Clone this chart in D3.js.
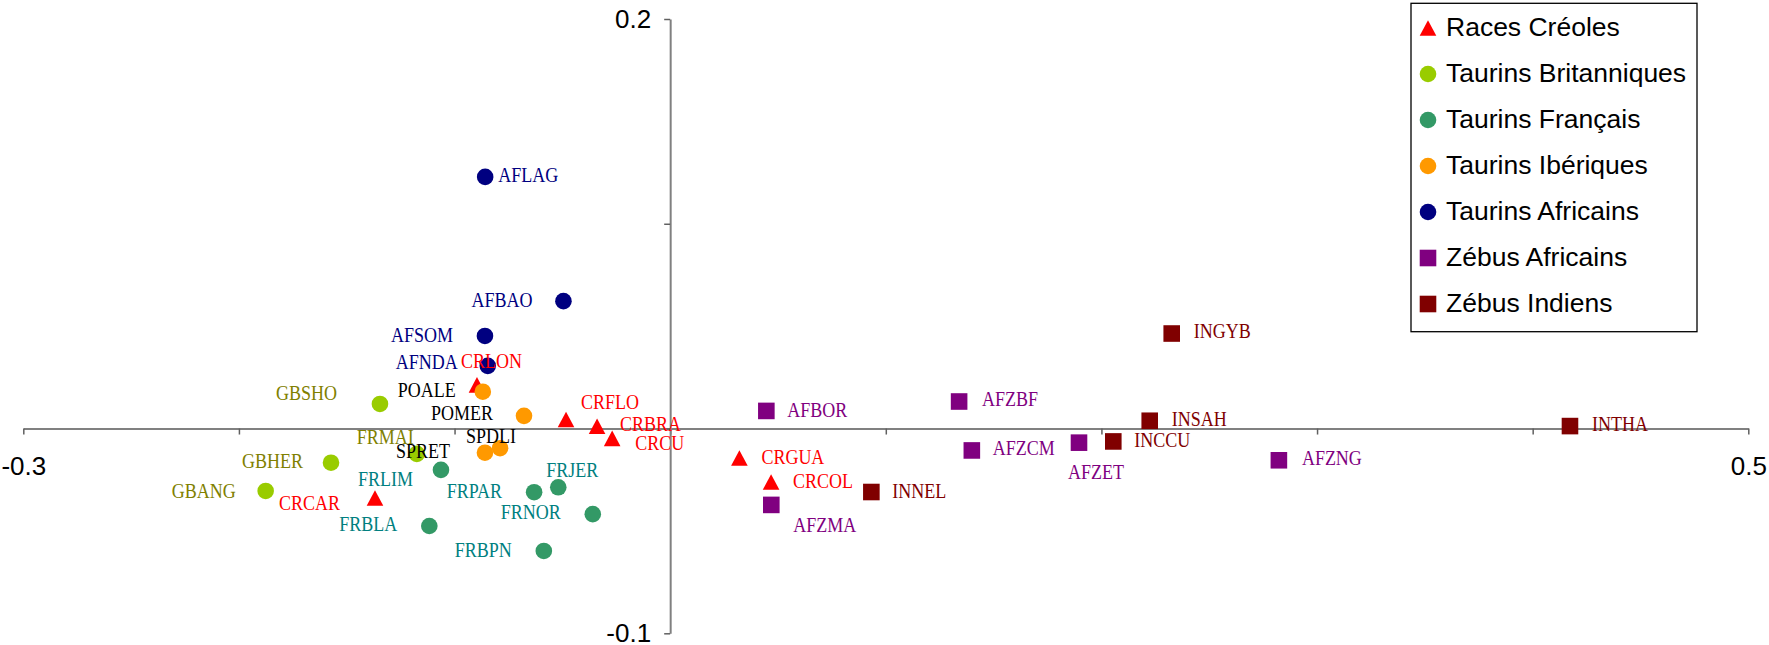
<!DOCTYPE html>
<html>
<head>
<meta charset="utf-8">
<script src="https://cdn.jsdelivr.net/npm/d3@7"></script>
<style>
  html, body { margin: 0; padding: 0; background: #fff; }
  svg { display: block; }
</style>
</head>
<body>
<svg id="chart" width="1769" height="645"></svg>
<script>
// Breed coordinates on the first two factorial axes: [breed, axis 1, axis 2]
const racesCreoles = [
  ["CRLON", -0.0896, 0.0213],
  ["CRFLO", -0.0483, 0.0044],
  ["CRBRA", -0.0339, 0.0011],
  ["CRCU", -0.0269, -0.0048],
  ["CRCAR", -0.1369, -0.0339],
  ["CRGUA", 0.0321, -0.0144],
  ["CRCOL", 0.0468, -0.0261]
];
const taurinsBritanniques = [
  ["GBSHO", -0.1346, 0.0120],
  ["FRMAI", -0.1175, -0.0124],
  ["GBHER", -0.1573, -0.0167],
  ["GBANG", -0.1876, -0.0305]
];
const taurinsFrancais = [
  ["FRLIM", -0.1063, -0.0202],
  ["FRPAR", -0.0631, -0.0311],
  ["FRJER", -0.0519, -0.0287],
  ["FRNOR", -0.0359, -0.0418],
  ["FRBLA", -0.1117, -0.0476],
  ["FRBPN", -0.0586, -0.0598]
];
const taurinsIberiques = [
  ["POALE", -0.0869, 0.0180],
  ["POMER", -0.0678, 0.0062],
  ["SPRET", -0.0859, -0.0118],
  ["SPDLI", -0.0789, -0.0096]
];
const taurinsAfricains = [
  ["AFLAG", -0.0858, 0.1229],
  ["AFBAO", -0.0495, 0.0622],
  ["AFSOM", -0.0859, 0.0452],
  ["AFNDA", -0.0846, 0.0306]
];
const zebusAfricains = [
  ["AFBOR", 0.0446, 0.0086],
  ["AFZBF", 0.1340, 0.0132],
  ["AFZCM", 0.1399, -0.0107],
  ["AFZET", 0.1896, -0.0069],
  ["AFZMA", 0.0469, -0.0373],
  ["AFZNG", 0.2823, -0.0155]
];
const zebusIndiens = [
  ["INGYB", 0.2326, 0.0464],
  ["INSAH", 0.2224, 0.0038],
  ["INCCU", 0.2055, -0.0063],
  ["INNEL", 0.0933, -0.0310],
  ["INTHA", 0.4173, 0.0012]
];

const groupNames = ["Races Créoles", "Taurins Britanniques", "Taurins Français",
  "Taurins Ibériques", "Taurins Africains", "Zébus Africains", "Zébus Indiens"];
const groupPoints = [racesCreoles, taurinsBritanniques, taurinsFrancais,
  taurinsIberiques, taurinsAfricains, zebusAfricains, zebusIndiens];

const xDomain = [-0.3, 0.5];
const yDomain = [-0.1, 0.2];
const xTicks = [-0.3, -0.2, -0.1, 0, 0.1, 0.2, 0.3, 0.4, 0.5];
const yTicks = [-0.1, 0, 0.1, 0.2];
const xTickLabels = ["-0.3", "", "", "", "", "", "", "", "0.5"];
const yTickLabels = ["-0.1", "", "", "0.2"];

// Styling per group
const groupStyle = [
  { shape: "triangle", fill: "#FF0000", text: "#FF0000" },
  { shape: "circle",   fill: "#99CC00", text: "#808000" },
  { shape: "circle",   fill: "#339966", text: "#008080" },
  { shape: "circle",   fill: "#FF9900", text: "#000000" },
  { shape: "circle",   fill: "#000080", text: "#000080" },
  { shape: "square",   fill: "#800080", text: "#800080" },
  { shape: "square",   fill: "#800000", text: "#800000" }
];

// Hand-placed label positions: [anchor, dx, dy] in pixels from the marker
const labelPlacement = {
  CRLON: ["start", -16, -24], CRFLO: ["start", 15, -17], CRBRA: ["start", 23, -2],
  CRCU: ["start", 23, 5], CRCAR: ["end", -35, 5], CRGUA: ["start", 22, -1],
  CRCOL: ["start", 22, -1],
  GBSHO: ["end", -43, -11], FRMAI: ["end", -3, -17], GBHER: ["end", -28, -1],
  GBANG: ["end", -30, 0],
  FRLIM: ["end", -28, 10], FRPAR: ["end", -32, -1], FRJER: ["start", -12, -17],
  FRNOR: ["end", -32, -2], FRBLA: ["end", -32, -2], FRBPN: ["end", -32, -1],
  POALE: ["end", -27, -1], POMER: ["end", -31, -2], SPRET: ["end", -35, -1],
  SPDLI: ["start", -34, -12],
  AFLAG: ["start", 13, -1], AFBAO: ["end", -31, -1], AFSOM: ["end", -32, -1],
  AFNDA: ["end", -30, -3],
  AFBOR: ["start", 21, -1], AFZBF: ["start", 23, -2], AFZCM: ["start", 21, -2],
  AFZET: ["start", -11, 30], AFZMA: ["start", 22, 20], AFZNG: ["start", 23, -2],
  INGYB: ["start", 22, -2], INSAH: ["start", 22, -1], INCCU: ["start", 21, -1],
  INNEL: ["start", 21, -1], INTHA: ["start", 22, -2]
};

const svg = d3.select("#chart");

const x = d3.scaleLinear().domain(xDomain).range([23.3, 1748.3]);
const y = d3.scaleLinear().domain(yDomain).range([633.3, 19]);

const AXIS_COLOR = "#808080";

// Horizontal axis through y = 0
const xAxis = d3.axisBottom(x)
  .tickValues(xTicks)
  .tickSizeInner(6)
  .tickSizeOuter(0)
  .tickPadding(22)
  .tickFormat((d, i) => xTickLabels[i]);

const gx = svg.append("g")
  .attr("transform", `translate(0,${y(0)})`)
  .call(xAxis);

// Vertical axis through x = 0
const yAxis = d3.axisLeft(y)
  .tickValues(yTicks)
  .tickSizeInner(6)
  .tickSizeOuter(0)
  .tickPadding(13)
  .tickFormat((d, i) => yTickLabels[i]);

const gy = svg.append("g")
  .attr("transform", `translate(${x(0)},0)`)
  .call(yAxis);

[gx, gy].forEach(g => {
  g.select(".domain").attr("stroke", AXIS_COLOR).attr("stroke-width", 2);
  g.selectAll(".tick line").attr("stroke", "#606060").attr("stroke-width", 1.5);
  g.selectAll(".tick text")
    .attr("fill", "#000")
    .style("font-family", "'Liberation Sans', Arial, sans-serif")
    .style("font-size", "26px");
});

// Marker shapes
function markerPath(shape) {
  if (shape === "triangle") return "M0,-7.8L8.3,7.8L-8.3,7.8Z";
  if (shape === "square") return "M-8.3,-8.3H8.3V8.3H-8.3Z";
  return null;
}

function drawMarker(sel, shape, fill) {
  if (shape === "circle") {
    sel.append("circle").attr("r", 8.3).attr("fill", fill);
  } else {
    sel.append("path").attr("d", markerPath(shape)).attr("fill", fill);
  }
}

// Points, drawn group by group
const pointsLayer = svg.append("g");
groupPoints.forEach((pts, gi) => {
  const st = groupStyle[gi];
  pointsLayer.append("g")
    .selectAll("g")
    .data(pts)
    .join("g")
    .attr("transform", d => `translate(${x(d[1])},${y(d[2])})`)
    .each(function () { drawMarker(d3.select(this), st.shape, st.fill); });
});

// Point labels on top of all markers (serif, slightly condensed)
const labelsLayer = svg.append("g")
  .style("font-family", "'Liberation Serif', 'Times New Roman', serif")
  .style("font-size", "20px");
groupPoints.forEach((pts, gi) => {
  const st = groupStyle[gi];
  labelsLayer.selectAll(null)
    .data(pts)
    .join("text")
    .attr("transform", d => {
      const p = labelPlacement[d[0]];
      return `translate(${x(d[1]) + p[1]},${y(d[2]) + p[2]}) scale(0.9,1)`;
    })
    .attr("dy", "0.33em")
    .attr("text-anchor", d => labelPlacement[d[0]][0])
    .attr("fill", st.text)
    .text(d => d[0]);
});

// Legend
const legend = svg.append("g");
legend.append("rect")
  .attr("x", 1411).attr("y", 3.3)
  .attr("width", 286).attr("height", 328.4)
  .attr("fill", "#fff")
  .attr("stroke", "#000")
  .attr("stroke-width", 1.3);

const legendItems = legend.selectAll("g.item")
  .data(groupNames)
  .join("g")
  .attr("class", "item")
  .attr("transform", (d, i) => `translate(1428,${28 + i * 46})`);

legendItems.each(function (d, i) {
  drawMarker(d3.select(this), groupStyle[i].shape, groupStyle[i].fill);
});

legendItems.append("text")
  .attr("x", 18)
  .attr("y", 7.5)
  .attr("fill", "#000")
  .style("font-family", "'Liberation Sans', Arial, sans-serif")
  .style("font-size", "26.5px")
  .text(d => d);
</script>
</body>
</html>
